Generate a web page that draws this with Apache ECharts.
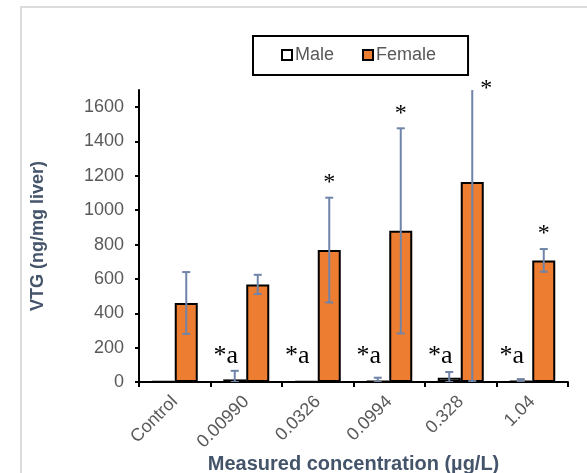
<!DOCTYPE html>
<html>
<head>
<meta charset="utf-8">
<script src="https://cdn.jsdelivr.net/npm/echarts@6/dist/echarts.min.js"></script>
<style>
html,body{margin:0;padding:0;background:#fff;}
#chart{width:587px;height:473px;}
</style>
</head>
<body>
<div id="chart"></div>
<script>
var categories = ['Control', '0.00990', '0.0326', '0.0994', '0.328', '1.04'];
var maleMean = [3, 15, 3, 5, 25, 5];
var maleErr = [0, 50, 0, 20, 33, 12];
var femaleMean = [460, 568, 768, 880, 1165, 708];
var femaleErr = [180, 56, 305, 597, 1160, 66];
var maleMarks = ['', '*a', '*a', '*a', '*a', '*a'];
var femaleMarks = ['', '', '*', '*', '*', '*'];
var yMin = 0, yMax = 1700, yInterval = 200;

var BAR_W = 23;
var GRID = {left: 139, right: 19, top: 90, bottom: 91, containLabel: false, outerBoundsMode: 'none'};
var ERR_COLOR = '#6f84a8';
var LABEL_COLOR = '#595959';
var TITLE_COLOR = '#44546a';
var FONT = '"Liberation Sans", Arial, sans-serif';

function errSeries(name, means, errs, side) {
  return {
    type: 'custom', name: name + ' err', clip: true, z: 5,
    data: means.map(function (m, i) { return [i, m, errs[i]]; }),
    renderItem: function (params, api) {
      var i = api.value(0), m = api.value(1), e = api.value(2);
      if (!e) return;
      var top = api.coord([i, m + e]);
      var bot = api.coord([i, Math.max(m - e, 0)]);
      var x = top[0] + side * BAR_W / 2;
      var st = {stroke: ERR_COLOR, lineWidth: 2};
      var ch = 4;
      return {type: 'group', children: [
        {type: 'line', shape: {x1: x, y1: top[1], x2: x, y2: bot[1]}, style: st},
        {type: 'line', shape: {x1: x - ch, y1: top[1], x2: x + ch, y2: top[1]}, style: st},
        {type: 'line', shape: {x1: x - ch, y1: bot[1], x2: x + ch, y2: bot[1]}, style: st}
      ]};
    }
  };
}

function markSeries(name, marks, means, errs, side, kind) {
  return {
    type: 'custom', name: name + ' marks', z: 10, silent: true,
    data: marks.map(function (t, i) { return [i, means[i], errs[i]]; }),
    renderItem: function (params, api) {
      var i = api.value(0);
      var t = marks[i];
      if (!t) return;
      var cx = api.coord([i, 0])[0] + side * BAR_W / 2;
      var x, y;
      if (kind === 'male') {
        x = cx - 9;
        y = api.coord([i, 0])[1] - 26;
      } else {
        var topY = api.coord([i, means[i] + errs[i]])[1];
        if (topY < GRID.top) { x = cx + 14; y = GRID.top - 1; }
        else { x = cx; y = topY - 15; }
      }
      return {type: 'text', x: x, y: y, style: {
        text: t, fill: '#000', font: (kind === 'male' ? '26px' : '24px') + ' "Liberation Serif", "Times New Roman", serif',
        textAlign: 'center', textVerticalAlign: 'middle'
      }};
    }
  };
}

var chart = echarts.init(document.getElementById('chart'));
chart.setOption({
  animation: false,
  backgroundColor: '#fff',
  graphic: [{type: 'rect', shape: {x: 21, y: 7, width: 620, height: 520},
    style: {fill: 'none', stroke: '#dcdcdc', lineWidth: 2}, z: -1}],
  legend: {
    left: 253, top: 36, padding: [10, 32, 11, 28],
    borderColor: '#000', borderWidth: 2, borderRadius: 0,
    itemWidth: 10, itemHeight: 10, itemGap: 28,
    icon: 'rect',
    data: ['Male', 'Female'],
    textStyle: {color: LABEL_COLOR, fontSize: 18, fontFamily: FONT, padding: [0, 0, 0, -2]}
  },
  grid: GRID,
  xAxis: {
    type: 'category', data: categories,
    name: 'Measured concentration (µg/L)', nameLocation: 'middle', nameGap: 72, nameMoveOverlap: false,
    nameTextStyle: {color: TITLE_COLOR, fontSize: 20, fontWeight: 'bold', fontFamily: FONT},
    axisLine: {lineStyle: {color: '#000', width: 2}},
    axisTick: {show: true, length: 5, lineStyle: {color: '#000', width: 2}},
    axisLabel: {rotate: 45, color: LABEL_COLOR, fontSize: 18, fontFamily: FONT, margin: 17}
  },
  yAxis: {
    type: 'value', min: yMin, max: yMax, interval: yInterval,
    name: 'VTG (ng/mg liver)', nameLocation: 'middle', nameGap: 92, nameRotate: 90, nameMoveOverlap: false,
    nameTextStyle: {color: TITLE_COLOR, fontSize: 18, fontWeight: 'bold', fontFamily: FONT},
    axisLine: {show: true, lineStyle: {color: '#000', width: 2}},
    axisTick: {show: true, length: 4, lineStyle: {color: '#000', width: 2}},
    splitLine: {show: false},
    axisLabel: {color: LABEL_COLOR, fontSize: 18, fontFamily: FONT, margin: 15, showMaxLabel: false,
      formatter: function (v) { return String(v); }}
  },
  series: [
    {name: 'Male', type: 'bar', data: maleMean, barWidth: BAR_W, barGap: '0%',
     itemStyle: {color: '#fff', borderColor: '#000', borderWidth: 2}},
    {name: 'Female', type: 'bar', data: femaleMean, barWidth: BAR_W,
     itemStyle: {color: '#ed7d31', borderColor: '#000', borderWidth: 2}},
    errSeries('Male', maleMean, maleErr, -1),
    errSeries('Female', femaleMean, femaleErr, 1),
    markSeries('Male', maleMarks, maleMean, maleErr, -1, 'male'),
    markSeries('Female', femaleMarks, femaleMean, femaleErr, 1, 'female')
  ]
});
</script>
</body>
</html>
